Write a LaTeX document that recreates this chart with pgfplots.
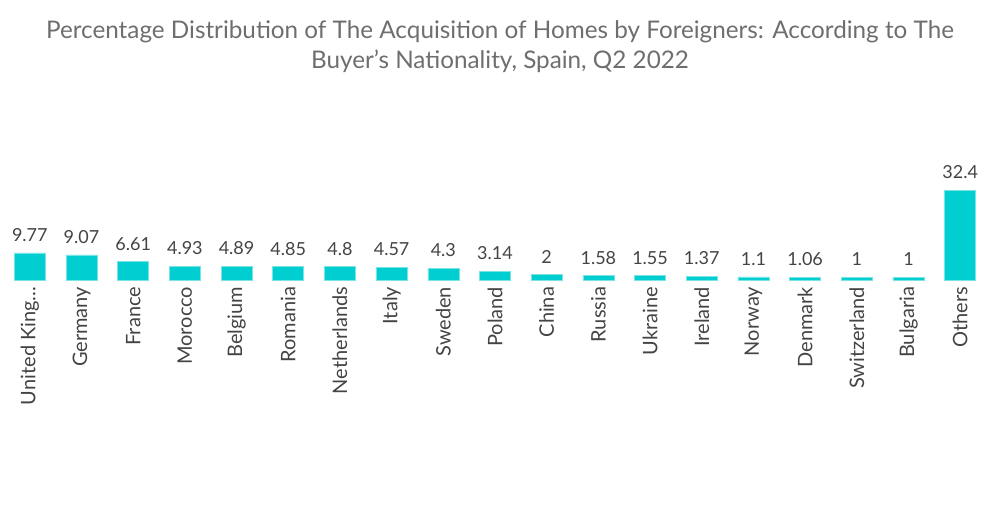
\documentclass[border=0pt]{standalone}
\usepackage{pgfplots}
\pgfplotsset{compat=1.18}
\usepackage{fontspec}
\setmainfont{Lato}
\definecolor{barfill}{RGB}{0,206,209}
\definecolor{baredge}{RGB}{120,228,230}
\definecolor{titlegray}{RGB}{110,110,110}
\definecolor{labelgray}{RGB}{68,68,68}
\begin{document}
\begin{tikzpicture}
\useasboundingbox (0,0) rectangle (750pt,378pt);
\node[titlegray, font=\fontsize{18.2}{22.5}\selectfont, align=center] at (375pt,343pt)
  {Percentage Distribution of The Acquisition of Homes by Foreigners: According to The\\Buyer's Nationality, Spain, Q2 2022};
\begin{axis}[
    at={(3pt,168pt)}, anchor=south west,
    scale only axis,
    width=736.5pt, height=67.5pt,
    xmin=-0.5, xmax=18.5,
    ymin=0, ymax=32.4,
    axis line style={draw=none},
    clip=false,
    ybar, bar width=23.25pt,
    xtick=data,
    xticklabels={{United King{.}{.}{.}},Germany,France,Morocco,Belgium,Romania,Netherlands,Italy,Sweden,Poland,China,Russia,Ukraine,Ireland,Norway,Denmark,Switzerland,Bulgaria,Others},
    xticklabel style={rotate=90, anchor=east, font=\fontsize{15}{16}\selectfont, text=labelgray, inner sep=0pt},
    major tick length=0pt,
    every tick label/.append style={yshift=-5pt},
    ytick=\empty,
    nodes near coords,
    point meta=explicit symbolic,
    every node near coord/.append style={font=\fontsize{13.5}{15}\selectfont, text=labelgray, yshift=5pt},
]
\addplot[fill=barfill, draw=baredge] table[meta=lab] {
x y lab
0 9.77 9.77
1 9.07 9.07
2 6.61 6.61
3 4.93 4.93
4 4.89 4.89
5 4.85 4.85
6 4.8 4.8
7 4.57 4.57
8 4.3 4.3
9 3.14 3.14
10 2 2
11 1.58 1.58
12 1.55 1.55
13 1.37 1.37
14 1.1 1.1
15 1.06 1.06
16 1 1
17 1 1
18 32.4 32.4
};
\end{axis}
\end{tikzpicture}
\end{document}
